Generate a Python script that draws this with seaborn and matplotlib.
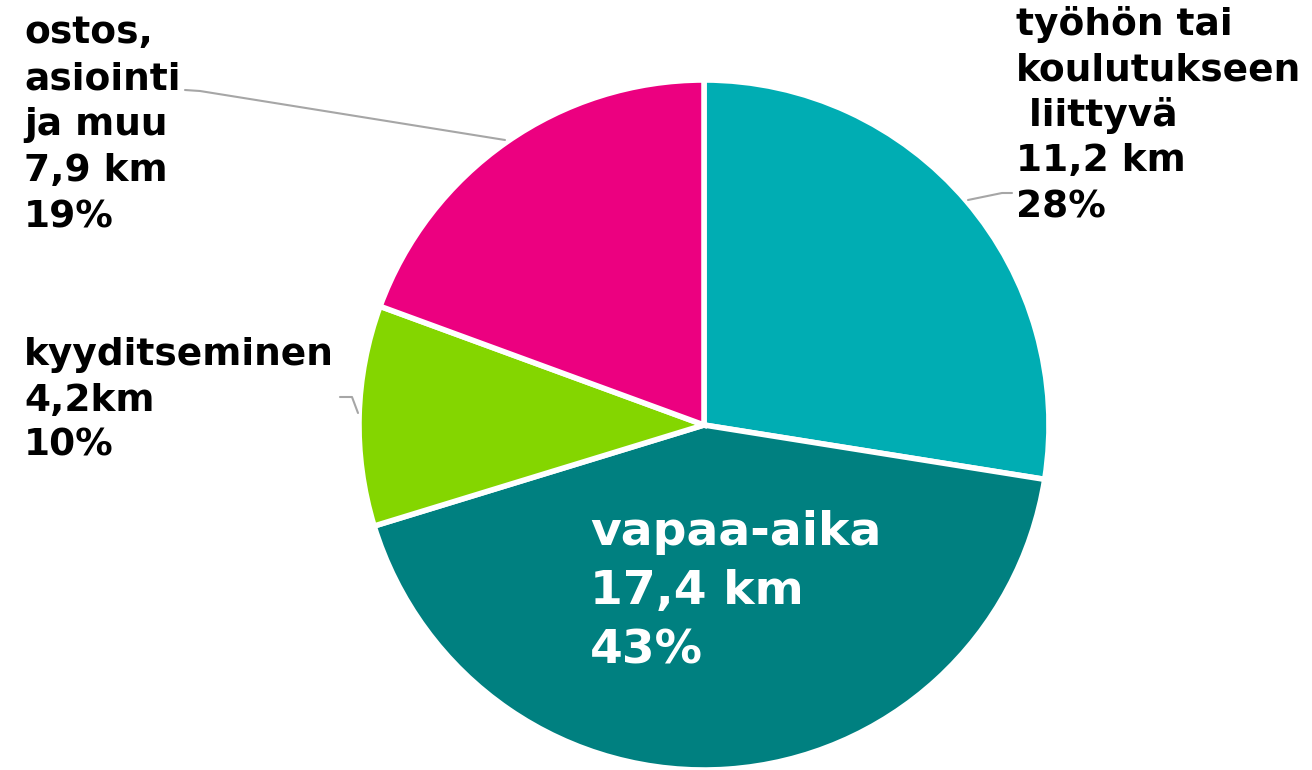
import matplotlib
matplotlib.use("Agg")
import matplotlib.pyplot as plt
import seaborn as sns

# ---- data ----
categories = ["työhön tai\nkoulutukseen\n liittyvä", "vapaa-aika", "kyyditseminen", "ostos,\nasiointi\nja muu"]
km_values = [11.2, 17.4, 4.2, 7.9]
km_labels = ["11,2 km", "17,4 km", "4,2km", "7,9 km"]
pct_labels = ["28%", "43%", "10%", "19%"]
colors = ["#00ADB3", "#008080", "#84D600", "#EC0080"]

sns.set_theme(style="white")
plt.rcParams["font.family"] = ["DejaVu Sans"]

W, H = 1312, 770
fig = plt.figure(figsize=(W / 100, H / 100), dpi=100)
ax = fig.add_axes([0, 0, 1, 1])
ax.set_xlim(0, W)
ax.set_ylim(0, H)
ax.set_aspect("equal")
ax.axis("off")

cx, cy, r = 704, H - 425, 345
ax.pie(km_values, colors=colors, startangle=90, counterclock=False,
       center=(cx, cy), radius=r, frame=True,
       wedgeprops=dict(edgecolor="white", linewidth=4))
ax.set_xlim(0, W)
ax.set_ylim(0, H)
ax.axis("off")


def label(x, y0, lines, step, size, color):
    for i, t in enumerate(lines):
        ax.text(x, H - (y0 + i * step), t, fontsize=size, fontweight="heavy",
                color=color, ha="left", va="baseline")


def lines_for(i):
    return categories[i].split("\n") + [km_labels[i], pct_labels[i]]


label(1016, 35, lines_for(0), 45.5, 27, "black")
label(590, 545, lines_for(1), 59, 34, "white")
label(24, 365, lines_for(2), 45.5, 27, "black")
label(24, 43, lines_for(3), 46, 27, "black")

lc = "#A6A6A6"
ax.plot([185, 200, 505], [H - 90, H - 91, H - 140], color=lc, lw=1.5)
ax.plot([968, 1002, 1012], [H - 200, H - 193, H - 193], color=lc, lw=1.5)
ax.plot([340, 352, 358], [H - 397, H - 397, H - 413], color=lc, lw=1.5)

fig.savefig("out.png", dpi=100)
